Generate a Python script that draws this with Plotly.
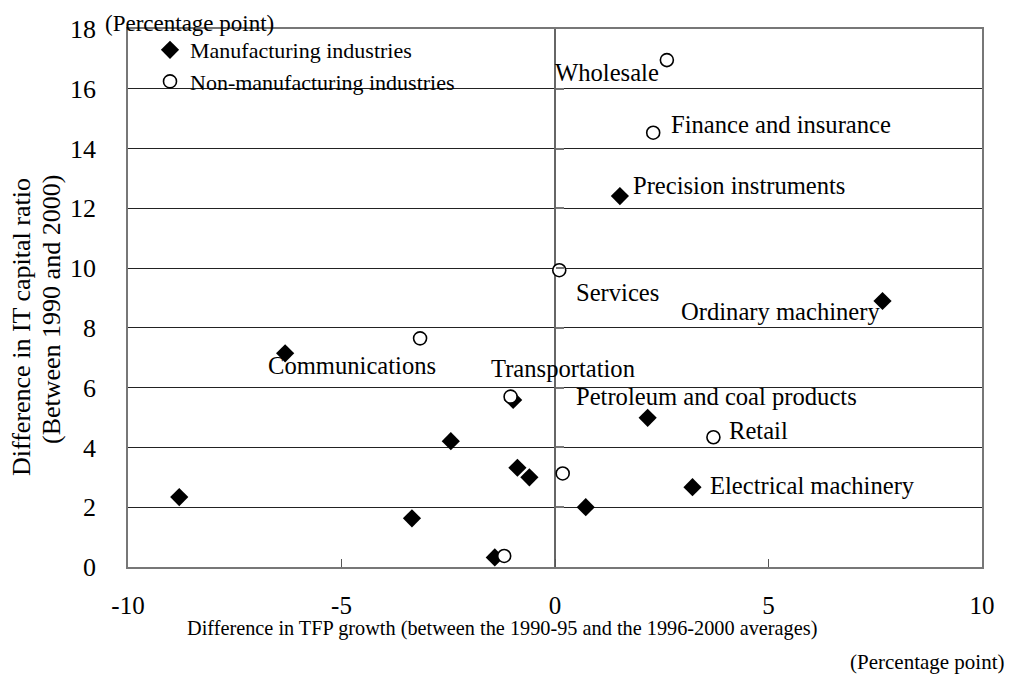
import plotly.graph_objects as go

# Manufacturing industries (diamonds)
manu_names = ["", "", "", "", "", "", "", "", "",
              "Precision instruments", "Ordinary machinery",
              "Petroleum and coal products", "Electrical machinery"]
manu_x = [-8.8, -6.32, -2.44, -3.35, -0.88, -0.60, -1.41, 0.72, -0.98, 1.52, 7.67, 2.17, 3.22]
manu_y = [2.34, 7.15, 4.21, 1.63, 3.32, 3.00, 0.32, 2.00, 5.59, 12.41, 8.90, 4.99, 2.67]

# Non-manufacturing industries (circles)
non_names = ["Wholesale", "Finance and insurance", "Services", "Communications",
             "Transportation", "", "", "Retail"]
non_x = [2.62, 2.30, 0.10, -3.16, -1.04, 0.18, -1.19, 3.71]
non_y = [16.96, 14.53, 9.93, 7.65, 5.70, 3.13, 0.37, 4.34]

y_ticks = [0, 2, 4, 6, 8, 10, 12, 14, 16, 18]
x_ticks = [-10, -5, 0, 5, 10]

FONT = "Liberation Serif"

# page is rendered with an 8px body margin
OFF = 8
W, H = 1015 - OFF, 675 - OFF
PL, PR, PT, PB = 128, 982, 29, 567   # plot area in page pixels


def px(xp):
    return (xp - PL) / (PR - PL)


def py(yp):
    return (PB - yp) / (PB - PT)


# label placement (anchor, pixel offsets from the point)
label_style = {
    "Wholesale": ("right", -6, -12),
    "Finance and insurance": ("left", 16, 8),
    "Services": ("left", 15, -22),
    "Communications": ("right", 18, -27),
    "Transportation": ("left", -22, 28),
    "Retail": ("left", 14, 7),
    "Precision instruments": ("left", 11, 11),
    "Ordinary machinery": ("right", -1, -11),
    "Petroleum and coal products": ("left", -74, 21),
    "Electrical machinery": ("left", 16, 2),
}

fig = go.Figure()
fig.add_trace(go.Scatter(
    x=manu_x, y=manu_y, mode="markers", name="Manufacturing industries",
    marker=dict(symbol="diamond", size=14, color="black"),
))
fig.add_trace(go.Scatter(
    x=non_x, y=non_y, mode="markers", name="Non-manufacturing industries",
    marker=dict(symbol="circle", size=13, color="white", line=dict(width=1.6, color="black")),
))
# invisible trace to carry the tick marks on the x = 0 line
fig.add_trace(go.Scatter(x=[0], y=[0], yaxis="y2", mode="markers",
                         marker=dict(opacity=0), showlegend=False, hoverinfo="skip"))

annotations = []
for names, xs, ys in ((manu_names, manu_x, manu_y), (non_names, non_x, non_y)):
    for n, xv, yv in zip(names, xs, ys):
        if n in label_style:
            anchor, dx, dy = label_style[n]
            annotations.append(dict(
                x=xv, y=yv, xref="x", yref="y", text=n, showarrow=False,
                xanchor=anchor, yanchor="middle", xshift=dx, yshift=dy,
                font=dict(family=FONT, size=24.6, color="black"),
            ))

annotations += [
    dict(x=px(103), y=py(23), xref="paper", yref="paper", text="(Percentage point)",
         showarrow=False, xanchor="left", yanchor="middle",
         font=dict(family=FONT, size=23, color="black")),
    dict(x=px(502), y=py(628), xref="paper", yref="paper",
         text="Difference in TFP growth (between the 1990-95 and the 1996-2000 averages)",
         showarrow=False, xanchor="center", yanchor="middle",
         font=dict(family=FONT, size=20.3, color="black")),
    dict(x=px(1007), y=py(662), xref="paper", yref="paper", text="(Percentage point)",
         showarrow=False, xanchor="right", yanchor="middle",
         font=dict(family=FONT, size=21, color="black")),
    dict(x=px(21), y=py(327), xref="paper", yref="paper",
         text="Difference in IT capital ratio", textangle=-90,
         showarrow=False, xanchor="center", yanchor="middle",
         font=dict(family=FONT, size=26, color="black")),
    dict(x=px(51), y=py(310), xref="paper", yref="paper",
         text="(Between 1990 and 2000)", textangle=-90,
         showarrow=False, xanchor="center", yanchor="middle",
         font=dict(family=FONT, size=26, color="black")),
]

fig.update_layout(
    width=W, height=H,
    margin=dict(l=PL - OFF, r=1015 - PR, t=PT - OFF, b=675 - PB),
    paper_bgcolor="white", plot_bgcolor="white",
    font=dict(family=FONT, color="black"),
    showlegend=True,
    legend=dict(x=px(150), y=1.0, xanchor="left", yanchor="top",
                bgcolor="rgba(0,0,0,0)", font=dict(family=FONT, size=22),
                tracegroupgap=0),
    annotations=annotations,
    xaxis=dict(range=[-10, 10], tickvals=x_ticks, ticktext=[str(v) for v in x_ticks],
               showgrid=False, zeroline=True, zerolinecolor="#666", zerolinewidth=1.5,
               showline=True, linecolor="#777", linewidth=1.5, mirror=True,
               ticks="inside", ticklen=8, tickcolor="#555",
               tickfont=dict(family=FONT, size=25), ticklabelstandoff=15,
               automargin=False),
    yaxis=dict(range=[0, 18], tickvals=y_ticks, showgrid=True, gridcolor="#222",
               gridwidth=1, zeroline=False, showline=True, linecolor="#777",
               linewidth=1.5, mirror=True, ticks="", tickfont=dict(family=FONT, size=26),
               ticklabelstandoff=25, automargin=False),
    yaxis2=dict(range=[0, 18], tickvals=y_ticks, overlaying="y", anchor="free",
                position=0.5, side="left", ticks="inside", ticklen=8, tickcolor="#777",
                tickwidth=1.5, showticklabels=False, showgrid=False, zeroline=False,
                showline=False, automargin=False),
)

fig.write_html("out.html")
